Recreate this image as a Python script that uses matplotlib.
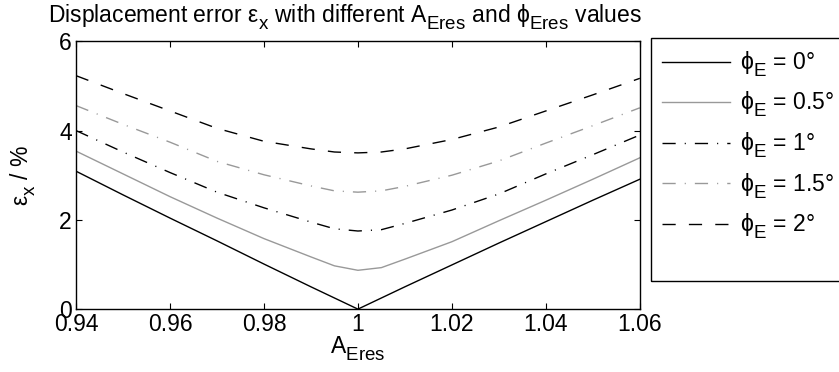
import matplotlib
matplotlib.use("Agg")
import matplotlib.pyplot as plt
import matplotlib._mathtext as _mt
from matplotlib.patches import Rectangle

_mt.SHRINK_FACTOR = 0.82
_mt.FontConstantsBase.sub1 = 0.55
_mt.FontConstantsBase.sub2 = 0.65

plt.rcParams['font.family'] = ['Liberation Sans', 'DejaVu Sans']
plt.rcParams['mathtext.fontset'] = 'custom'
plt.rcParams['mathtext.rm'] = 'Liberation Sans'
plt.rcParams['mathtext.it'] = 'Liberation Sans'
plt.rcParams['mathtext.default'] = 'regular'

A_eres = [0.94, 0.95, 0.96, 0.97, 0.98, 0.99, 0.995, 1.0, 1.005, 1.01, 1.02, 1.03, 1.04, 1.05, 1.06]
err_phi0 = [3.09, 2.56, 2.04, 1.53, 1.01, 0.50, 0.25, 0.0, 0.25, 0.50, 0.99, 1.48, 1.96, 2.44, 2.91]
err_phi05 = [3.54, 3.03, 2.52, 2.04, 1.58, 1.17, 0.97, 0.87, 0.93, 1.12, 1.51, 1.98, 2.44, 2.91, 3.39]
err_phi1 = [4.00, 3.52, 3.06, 2.62, 2.27, 1.95, 1.80, 1.75, 1.78, 1.92, 2.22, 2.58, 3.03, 3.46, 3.90]
err_phi15 = [4.56, 4.14, 3.74, 3.31, 3.01, 2.76, 2.65, 2.62, 2.65, 2.75, 3.00, 3.32, 3.72, 4.11, 4.51]
err_phi2 = [5.23, 4.83, 4.44, 4.05, 3.76, 3.59, 3.52, 3.50, 3.52, 3.59, 3.80, 4.08, 4.44, 4.80, 5.17]
labels = [r'$\phi_E$ = 0°', r'$\phi_E$ = 0.5°', r'$\phi_E$ = 1°', r'$\phi_E$ = 1.5°', r'$\phi_E$ = 2°']
xticks = [0.94, 0.96, 0.98, 1.0, 1.02, 1.04, 1.06]
xticklabels = ['0.94', '0.96', '0.98', '1', '1.02', '1.04', '1.06']
yticks = [0, 2, 4, 6]

series = [err_phi0, err_phi05, err_phi1, err_phi15, err_phi2]
dashdot = (0, (9.5, 6.5, 0.8, 6.5))
dashed = (0, (9.5, 9.5))
styles = [
    dict(color='black', linestyle='-'),
    dict(color='#999999', linestyle='-'),
    dict(color='black', linestyle=dashdot),
    dict(color='#999999', linestyle=dashdot),
    dict(color='black', linestyle=dashed),
]

FS = 16.5
W, H = 839, 372
fig = plt.figure(figsize=(8.39, 3.72), dpi=100)
ax = fig.add_axes([0.0906, 0.169, 0.672, 0.720])
handles = []
for ys, st, lab in zip(series, styles, labels):
    h, = ax.plot(A_eres, ys, lw=1.0, label=lab, **st)
    handles.append(h)

ax.set_xlim(0.94, 1.06)
ax.set_ylim(0, 6)
ax.set_xticks(xticks)
ax.set_xticklabels(xticklabels)
ax.set_yticks(yticks)
ax.tick_params(direction='in', length=4, width=0.8, labelsize=FS, top=True, right=True, pad=3)
for s in ax.spines.values():
    s.set_linewidth(1.0)

ax.set_title(r'Displacement error $\epsilon_x$ with different $A_{Eres}$ and $\phi_{Eres}$ values',
             fontsize=FS, pad=13, x=0.477)
ax.set_xlabel(r'$A_{Eres}$', fontsize=FS, labelpad=-1)
ax.set_ylabel(r'$\epsilon_x$ / %', fontsize=FS, labelpad=15)

# legend frame (MATLAB-style box, extending past the figure edge)
fig.patches.append(Rectangle((651 / W, 1 - 281 / H), 200 / W, (281 - 38) / H,
                             transform=fig.transFigure, fill=False, edgecolor='black',
                             linewidth=1.0))
leg = fig.legend(handles=handles, loc='upper left', bbox_to_anchor=(657 / W, 1 - 45 / H),
                 fontsize=FS, frameon=False,
                 handlelength=3.0, handletextpad=0.4, labelspacing=0.5, borderpad=0.2,
                 borderaxespad=0)

fig.savefig('out.png', dpi=100)
